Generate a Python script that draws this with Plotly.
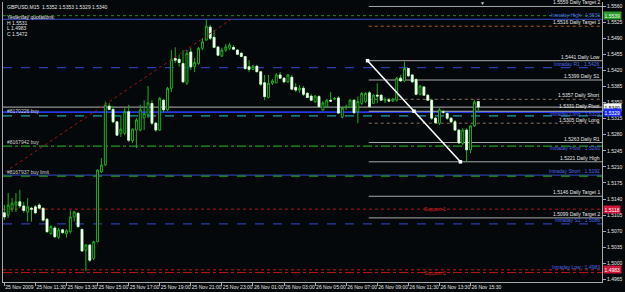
import plotly.graph_objects as go

# ---------------- data ----------------
bars = list(range(123))
opens = [1.5110,1.5105,1.5118,1.5127,1.5134,1.5125,1.5112,1.5120,1.5123,1.5127,
         1.5120,1.5096,1.5065,1.5077,1.5057,1.5073,1.5065,1.5069,1.5101,1.5109,
         1.5074,1.5029,1.5040,1.5011,1.5047,1.5199,1.5214,1.5342,1.5335,1.5308,
         1.5283,1.5283,1.5330,1.5267,1.5290,1.5290,1.5316,1.5323,1.5348,1.5305,
         1.5290,1.5355,1.5334,1.5381,1.5446,1.5444,1.5435,1.5392,1.5460,1.5428,
         1.5435,1.5468,1.5486,1.5514,1.5492,1.5471,1.5451,1.5464,1.5468,1.5470,
         1.5464,1.5457,1.5450,1.5428,1.5422,1.5429,1.5417,1.5393,1.5361,1.5392,
         1.5393,1.5410,1.5403,1.5395,1.5405,1.5383,1.5377,1.5381,1.5370,1.5364,
         1.5352,1.5363,1.5334,1.5341,1.5355,1.5357,1.5360,1.5318,1.5339,1.5340,
         1.5355,1.5330,1.5348,1.5352,1.5371,1.5348,1.5366,1.5366,1.5355,1.5356,
         1.5353,1.5355,1.5403,1.5397,1.5424,1.5410,1.5400,1.5368,1.5384,1.5366,
         1.5355,1.5316,1.5305,1.5330,1.5326,1.5316,1.5308,1.5290,1.5261,1.5290,
         1.5247,1.5299,1.5352]
highs = [1.5127,1.5153,1.5142,1.5153,1.5160,1.5134,1.5142,1.5123,1.5127,1.5131,
         1.5120,1.5099,1.5083,1.5081,1.5077,1.5075,1.5075,1.5116,1.5114,1.5112,
         1.5075,1.5042,1.5042,1.5049,1.5205,1.5229,1.5352,1.5349,1.5342,1.5310,
         1.5323,1.5338,1.5345,1.5294,1.5316,1.5345,1.5355,1.5386,1.5355,1.5308,
         1.5362,1.5358,1.5384,1.5464,1.5470,1.5453,1.5464,1.5464,1.5469,1.5447,
         1.5471,1.5490,1.5531,1.5519,1.5508,1.5473,1.5469,1.5477,1.5480,1.5475,
         1.5466,1.5460,1.5451,1.5442,1.5432,1.5432,1.5418,1.5410,1.5410,1.5401,
         1.5414,1.5416,1.5405,1.5412,1.5410,1.5392,1.5388,1.5386,1.5373,1.5368,
         1.5366,1.5366,1.5353,1.5358,1.5373,1.5362,1.5364,1.5340,1.5345,1.5358,
         1.5358,1.5363,1.5373,1.5373,1.5375,1.5368,1.5392,1.5368,1.5362,1.5360,
         1.5360,1.5406,1.5410,1.5439,1.5425,1.5412,1.5403,1.5388,1.5386,1.5368,
         1.5358,1.5318,1.5338,1.5334,1.5329,1.5318,1.5312,1.5292,1.5294,1.5294,
         1.5301,1.5356,1.5353]
lows = [1.5094,1.5099,1.5112,1.5112,1.5120,1.5110,1.5091,1.5091,1.5107,1.5118,
        1.5091,1.5066,1.5062,1.5055,1.5053,1.5064,1.5056,1.5065,1.5091,1.5077,
        1.5025,1.4983,1.5003,1.5007,1.5046,1.5197,1.5212,1.5334,1.5305,1.5277,
        1.5275,1.5279,1.5264,1.5262,1.5251,1.5287,1.5290,1.5316,1.5301,1.5286,
        1.5288,1.5329,1.5331,1.5373,1.5436,1.5428,1.5392,1.5388,1.5421,1.5416,
        1.5432,1.5464,1.5484,1.5486,1.5468,1.5451,1.5449,1.5460,1.5464,1.5464,
        1.5453,1.5449,1.5421,1.5416,1.5421,1.5416,1.5386,1.5355,1.5360,1.5388,
        1.5392,1.5401,1.5392,1.5393,1.5377,1.5373,1.5371,1.5364,1.5360,1.5353,
        1.5349,1.5340,1.5331,1.5340,1.5351,1.5355,1.5325,1.5316,1.5334,1.5338,
        1.5325,1.5305,1.5345,1.5349,1.5338,1.5347,1.5349,1.5353,1.5349,1.5351,
        1.5351,1.5352,1.5395,1.5395,1.5405,1.5392,1.5366,1.5366,1.5364,1.5353,
        1.5312,1.5303,1.5301,1.5325,1.5312,1.5305,1.5288,1.5260,1.5257,1.5221,
        1.5240,1.5297,1.5329]
closes = [1.5101,1.5127,1.5131,1.5134,1.5125,1.5115,1.5123,1.5118,1.5110,1.5120,
          1.5094,1.5069,1.5080,1.5058,1.5073,1.5067,1.5071,1.5101,1.5112,1.5080,
          1.5027,1.5040,1.5007,1.5047,1.5203,1.5214,1.5345,1.5335,1.5308,1.5279,
          1.5292,1.5330,1.5268,1.5292,1.5312,1.5334,1.5326,1.5349,1.5305,1.5290,
          1.5359,1.5334,1.5381,1.5444,1.5442,1.5437,1.5395,1.5457,1.5428,1.5437,
          1.5468,1.5482,1.5516,1.5490,1.5470,1.5453,1.5464,1.5471,1.5475,1.5466,
          1.5455,1.5450,1.5424,1.5422,1.5429,1.5417,1.5390,1.5363,1.5392,1.5397,
          1.5410,1.5403,1.5395,1.5410,1.5379,1.5377,1.5381,1.5368,1.5361,1.5355,
          1.5364,1.5341,1.5349,1.5355,1.5353,1.5359,1.5327,1.5338,1.5340,1.5355,
          1.5328,1.5352,1.5370,1.5370,1.5341,1.5366,1.5364,1.5355,1.5356,1.5353,
          1.5357,1.5403,1.5397,1.5424,1.5408,1.5395,1.5368,1.5386,1.5366,1.5355,
          1.5316,1.5306,1.5334,1.5329,1.5316,1.5308,1.5290,1.5262,1.5290,1.5247,
          1.5299,1.5351,1.5340]

xtick_bars = [0, 8, 16, 24, 32, 40, 48, 56, 64, 72, 80, 88, 96, 104, 112, 120]
xtick_labels = ["25 Nov 2009", "25 Nov 11:30", "25 Nov 13:30", "25 Nov 15:00",
                "25 Nov 17:00", "25 Nov 19:00", "25 Nov 21:00", "25 Nov 23:00",
                "26 Nov 01:00", "26 Nov 03:00", "26 Nov 05:00", "26 Nov 07:00",
                "26 Nov 09:00", "26 Nov 11:30", "26 Nov 13:30", "26 Nov 15:30"]
ytick_vals = [1.5560, 1.5525, 1.5490, 1.5455, 1.5420, 1.5385, 1.5350, 1.5315, 1.5280,
              1.5245, 1.5210, 1.5175, 1.5140, 1.5105, 1.5070, 1.5035, 1.5000, 1.4965]

daily_texts = ["1.5559 Daily Target 2", "1.5516 Daily Target 1", "1.5441 Daily Low",
               "1.5399 Daily S1", "1.5357 Daily Short", "1.5331 Daily Pivot",
               "1.5305 Daily Long", "1.5263 Daily R1", "1.5221 Daily High",
               "1.5146 Daily Target 1", "1.5099 Daily Target 2"]
daily_prices = [1.5559, 1.5516, 1.5441, 1.5399, 1.5357, 1.5331, 1.5305, 1.5263,
                1.5221, 1.5146, 1.5099]
daily_start_bar = 93.8

intraday_texts = ["Intraday High : 1.5531", "Intraday R1 : 1.5426", "Intraday Long : 1.5329",
                  "Intraday Pivot : 1.5260", "Intraday Short : 1.5192", "Intraday S1 : 1.5086",
                  "Intraday Low : 1.4983"]
intraday_prices = [1.5531, 1.5426, 1.5329, 1.5260, 1.5192, 1.5086, 1.4983]

order_texts = ["#8170226 buy", "#8167942 buy", "#8167937 buy limit"]
order_prices = [1.5321, 1.5255, 1.5190]

support_texts = ["Support 1", "Support 2"]
support_prices = [1.5118, 1.4980]
support_label_bar = 110.9
low_line_price = 1.4986
alert_price = 1.5539
bid_price = 1.5340

box_texts = ["1.5539", "1.5340", "1.5329", "1.5118", "1.4983"]
box_prices = [1.5539, 1.5340, 1.5329, 1.5118, 1.4986]

trend_x = [93.5, 117.4]
trend_y = [1.5441, 1.5221]
history_x = [0.2, 58.6]
history_y = [1.5199, 1.5532]

title_text = "GBPUSD,M15  1.5352 1.5353 1.5329 1.5340"
info_texts = ["Yesterday quotations:", "H 1.5531", "L 1.4983", "C 1.5472"]

# ---------------- style ----------------
W, H = 625, 292
ML, MR, MT, MB = 3, 23, 2, 10
BG = "#05080a"
GREEN = "#1fae1f"
GREY = "#a8a8a8"
WTXT = "#e4e4e4"
BTXT = "#4a66e6"
RED = "#d42020"
FONT = "Liberation Sans"
FS = 5

def py2paper(py):
    return (H - MB - py) / (H - MT - MB)

fig = go.Figure()

fig.add_trace(go.Candlestick(
    x=bars, open=opens, high=highs, low=lows, close=closes,
    increasing=dict(line=dict(color=GREEN, width=1), fillcolor="#000000"),
    decreasing=dict(line=dict(color=GREEN, width=1), fillcolor="#ffffff"),
    showlegend=False, hoverinfo="skip"))

# white bodies of bearish candles drawn on top (body range only)
body_top = [max(o, c) for o, c in zip(opens, closes)]
body_bot = [min(o, c) for o, c in zip(opens, closes)]
fig.add_trace(go.Candlestick(
    x=bars, open=opens, high=body_top, low=body_bot, close=closes,
    increasing=dict(line=dict(color="rgba(0,0,0,0)", width=0), fillcolor="rgba(0,0,0,0)"),
    decreasing=dict(line=dict(color="#f2fff2", width=0.6), fillcolor="#ffffff"),
    showlegend=False, hoverinfo="skip"))

# history dotted line
fig.add_trace(go.Scatter(x=history_x, y=history_y, mode="lines",
                         line=dict(color="#a01414", width=1, dash="dot"),
                         showlegend=False, hoverinfo="skip"))
# trend line with handles
mid_x = [(trend_x[0] + trend_x[1]) / 2]
mid_y = [(trend_y[0] + trend_y[1]) / 2]
fig.add_trace(go.Scatter(x=trend_x, y=trend_y, mode="lines+markers",
                         line=dict(color="#ffffff", width=1.6),
                         marker=dict(symbol="square", size=3.5, color="#ffffff"),
                         showlegend=False, hoverinfo="skip"))
fig.add_trace(go.Scatter(x=mid_x, y=mid_y, mode="markers",
                         marker=dict(symbol="square", size=3.5, color="#ffffff"),
                         showlegend=False, hoverinfo="skip"))

shapes = []
def hline(p, color, width=1, dash="solid", x0=None):
    if x0 is None:
        shapes.append(dict(type="line", xref="paper", x0=0, x1=1, yref="y", y0=p, y1=p,
                           line=dict(color=color, width=width, dash=dash), layer="below"))
    else:
        shapes.append(dict(type="line", xref="x", x0=x0, x1=153.84, yref="y", y0=p, y1=p,
                           line=dict(color=color, width=width, dash=dash), layer="below"))

# daily lines
for i, p in enumerate(daily_prices):
    if i == 1:
        hline(p, "#b45a24", 1, "dot", daily_start_bar)
    elif i in (4, 6):
        hline(p, "#8c7064", 1, "dot", daily_start_bar)
    else:
        hline(p, GREY, 1, "solid", daily_start_bar)

# intraday / order / support lines
hline(alert_price, "#1f8a1f", 1, "dot")
hline(intraday_prices[0], "#2c3ca8", 1.2)
hline(intraday_prices[1], "#2c3ca8", 1.2, "dash")
hline(bid_price, "#b4b4b4", 1)
hline(intraday_prices[2], "#2438e8", 1.8)
hline(order_prices[0], "#1fa0a0", 1.2, "dash")
hline(order_prices[1], "#1f9a1f", 1.2, "dashdot")
hline(intraday_prices[4], "#2c3ca8", 1.4)
hline(order_prices[2], "#1f9a1f", 1.2, "dash")
hline(support_prices[0], "#b01818", 1, "dot")
hline(intraday_prices[5], "#2c3ca8", 1.2, "dash")
hline(low_line_price, "#c01818", 1, "dot")
hline(support_prices[1], "#c01818", 1, "dashdot")

annotations = []
def ann(text, x, y, xref, yref, color, xanchor="left", yanchor="middle", xshift=0, yshift=0,
        bgcolor=None, size=FS):
    d = dict(text=text, x=x, y=y, xref=xref, yref=yref, showarrow=False,
             xanchor=xanchor, yanchor=yanchor, xshift=xshift, yshift=yshift,
             font=dict(family=FONT, size=size, color=color), borderpad=0)
    if bgcolor:
        d["bgcolor"] = bgcolor
        d["borderpad"] = 0.6
    annotations.append(d)

daily_yshift = {5: 1.0, 6: -1.0}
for i, (t, p) in enumerate(zip(daily_texts, daily_prices)):
    ann(t, 1, p, "paper", "y", WTXT, xanchor="right", yanchor="bottom", xshift=-1,
        yshift=daily_yshift.get(i, 0))
for i, (t, p) in enumerate(zip(intraday_texts, intraday_prices)):
    if i == 2:
        ann(t, 1, p, "paper", "y", BTXT, xanchor="right", yanchor="top", xshift=-1, yshift=1.7)
    elif i == 3:
        ann(t, 1, p, "paper", "y", BTXT, xanchor="right", yanchor="top", xshift=-1, yshift=-0.5)
    else:
        ann(t, 1, p, "paper", "y", BTXT, xanchor="right", yanchor="bottom", xshift=-1, yshift=0)
for t, p in zip(order_texts, order_prices):
    ann(t, 0, p, "paper", "y", "#d0d0d0", xanchor="left", yanchor="bottom", xshift=3, yshift=0.5)
for t, p in zip(support_texts, support_prices):
    ann(t, support_label_bar, p, "x", "y", RED, xanchor="center", yanchor="middle")

box_colors = ["#2a9a2a", "#f4f4f4", "#1c2cf0", "#d0143a", "#d0143a"]
box_font = ["#e8ffe8", "#000000", "#ffffff", "#ffffff", "#ffffff"]
for t, p, bc, fc in zip(box_texts, box_prices, box_colors, box_font):
    ann(t, 1, p, "paper", "y", fc, xanchor="left", yanchor="middle", xshift=1, bgcolor=bc)

ann(title_text, 0, py2paper(6.5), "paper", "paper", WTXT, xshift=3)
for t, pyy in zip(info_texts, [16.7, 22.7, 28.3, 34.0]):
    ann(t, 0, py2paper(pyy), "paper", "paper", WTXT, xshift=3)
ann("▼", 123, py2paper(3), "x", "paper", "#c8c8c8", xanchor="center", size=5)

fig.update_layout(
    width=W, height=H,
    margin=dict(l=ML, r=MR, t=MT, b=MB, autoexpand=False),
    paper_bgcolor=BG, plot_bgcolor=BG,
    shapes=shapes, annotations=annotations,
    showlegend=False, boxgap=0.3,
    xaxis=dict(range=[-0.335, 153.84], rangeslider=dict(visible=False),
               showgrid=False, zeroline=False, automargin=False,
               tickmode="array", tickvals=xtick_bars, ticktext=xtick_labels,
               tickangle=0,
               ticks="outside", ticklen=3, tickcolor=GREY, tickwidth=1,
               ticklabelposition="outside right",
               tickfont=dict(family=FONT, size=FS, color=WTXT),
               showline=True, linecolor=GREY, linewidth=1),
    yaxis=dict(range=[1.49595, 1.55687], side="right",
               showgrid=False, zeroline=False, automargin=False,
               tickmode="array", tickvals=ytick_vals,
               ticktext=[f"{v:.4f}" for v in ytick_vals],
               ticks="outside", ticklen=3, tickcolor=GREY, tickwidth=1,
               tickfont=dict(family=FONT, size=FS, color=WTXT),
               showline=True, mirror=True, linecolor=GREY, linewidth=1),
)

fig.write_html("out.html")
